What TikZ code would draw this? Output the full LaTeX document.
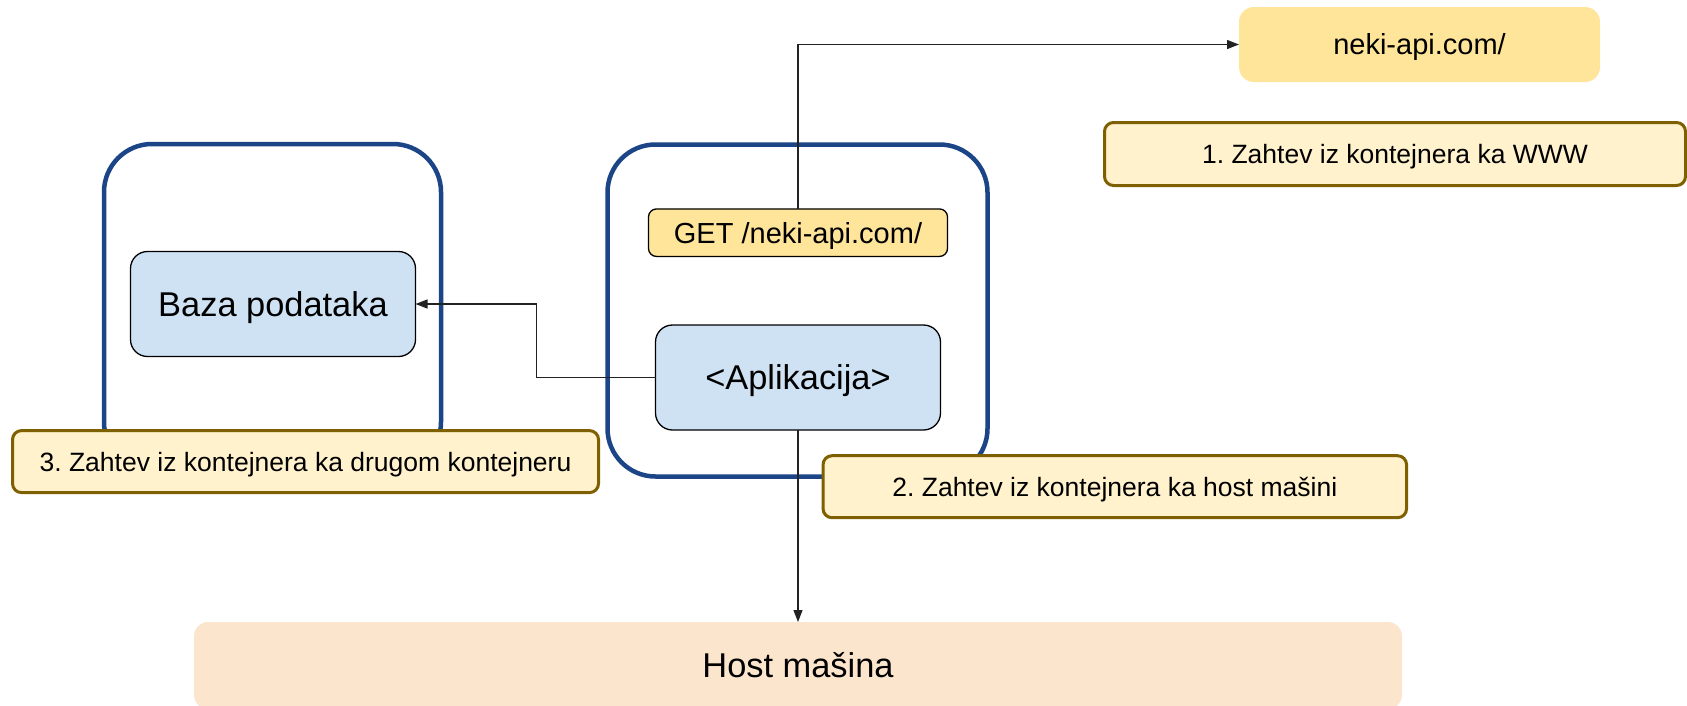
\documentclass[tikz,border=0pt]{standalone}
\usepackage{fontspec}
\setmainfont{Liberation Sans}
\usetikzlibrary{arrows.meta}
\definecolor{contblue}{HTML}{1C4587}
\definecolor{labfill}{HTML}{FFF2CC}
\definecolor{labdraw}{HTML}{7F6000}
\definecolor{apifill}{HTML}{FFE599}
\definecolor{appfill}{HTML}{CFE2F3}
\definecolor{hostfill}{HTML}{FCE5CD}
\definecolor{arrowc}{HTML}{222222}
\frenchspacing
\begin{document}
\begin{tikzpicture}[x=1pt,y=-1pt,
  every node/.style={inner sep=0pt, outer sep=0pt, align=center, text depth=0pt},
  container/.style={draw=contblue, line width=4.5pt, rounded corners=48pt},
  note/.style={draw=labdraw, fill=labfill, line width=3pt, rounded corners=9pt,
    font=\fontsize{26.5}{32}\selectfont, text height=19pt},
  appbox/.style={draw=black, fill=appfill, line width=1.3pt, rounded corners=17pt,
    font=\fontsize{34.4}{41}\selectfont, text height=24.6pt},
  apibox/.style={fill=apifill, rounded corners=15pt,
    font=\fontsize{29}{35}\selectfont, text height=20.8pt},
  getbox/.style={draw=black, fill=apifill, line width=1.3pt, rounded corners=8pt,
    font=\fontsize{29}{35}\selectfont, text height=20.8pt},
  hostbox/.style={fill=hostfill, rounded corners=14pt,
    font=\fontsize{34.4}{41}\selectfont, text height=24.6pt},
  conn/.style={draw=arrowc, line width=1.3pt, -{Triangle[length=12pt,width=9pt]}}
]
\useasboundingbox (0,0) rectangle (1687,705);
\fill[white] (0,0) rectangle (1687,705);
\clip (0,0) rectangle (1687,705);

% containers
\node[container, minimum width=337pt, minimum height=326pt] (leftC) at (272.5,307) {};
\node[container, minimum width=380pt, minimum height=332pt] (midC) at (797.5,310.5) {};

% boxes
\node[apibox, minimum width=361pt, minimum height=75pt] (neki) at (1419.5,44.5) {neki-api.com/};
\node[appbox, minimum width=285pt, minimum height=105pt] (baza) at (273,304) {Baza podataka};
\node[getbox, minimum width=299pt, minimum height=47.5pt] (get) at (798,232.7) {GET /neki-api.com/};
\node[appbox, minimum width=285pt, minimum height=105pt] (app) at (798,377.5) {<Aplikacija>};
\node[hostbox, minimum width=1208pt, minimum height=87pt] (host) at (798,665.5) {Host mašina};

% connectors
\draw[conn] (get.north) |- (neki.west);
\draw[conn] (app.west) -- ++(-119.2,0) |- (baza.east);
\draw[conn] (app.south) -- (host.north);

% notes
\node[note, minimum width=581pt, minimum height=63pt] (n1) at (1395,154) {1. Zahtev iz kontejnera ka WWW};
\node[note, minimum width=586pt, minimum height=62pt] (n3) at (305.5,461.6) {3. Zahtev iz kontejnera ka drugom kontejneru};
\node[note, minimum width=583.5pt, minimum height=62pt] (n2) at (1114.8,486.7) {2. Zahtev iz kontejnera ka host mašini};
\end{tikzpicture}
\end{document}
